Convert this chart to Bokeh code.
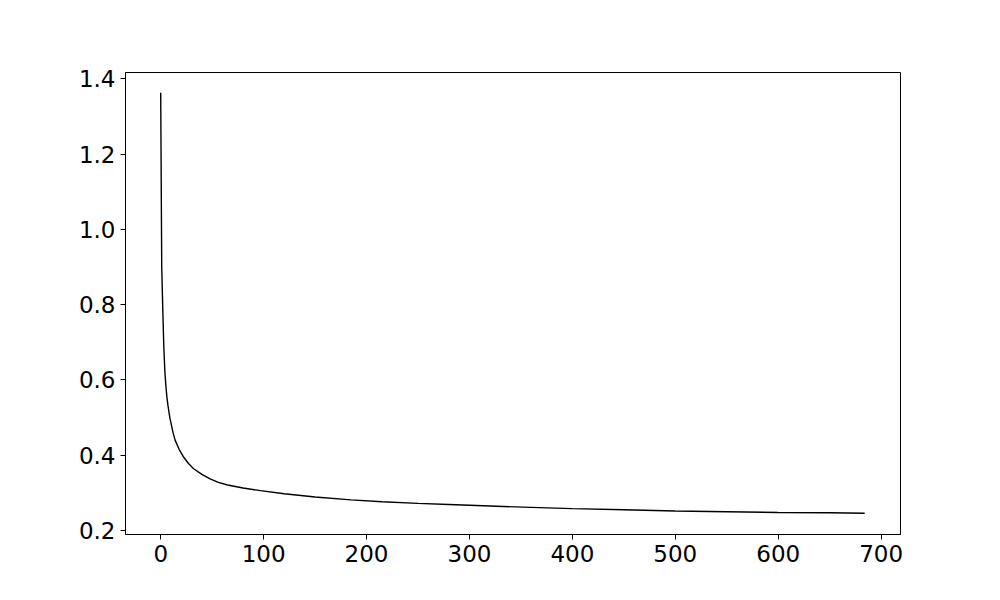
from bokeh.plotting import figure
from bokeh.models import Range1d, FixedTicker
from bokeh.embed import file_html
from bokeh.resources import INLINE

# Data (epoch, value)
epochs = [0, 1, 2, 3, 4, 5, 6, 7, 9, 12, 14, 18, 22, 27, 32, 40, 48, 56, 65,
          80, 97, 120, 150, 185, 215, 250, 280, 320, 360, 400, 450, 500,
          550, 600, 650, 684]
values = [1.363, 0.90, 0.79, 0.69, 0.625, 0.585, 0.555, 0.533, 0.498, 0.460,
          0.440, 0.415, 0.396, 0.378, 0.364, 0.349, 0.337, 0.328, 0.321,
          0.313, 0.306, 0.2975, 0.289, 0.2815, 0.2765, 0.272, 0.269, 0.265,
          0.2615, 0.258, 0.255, 0.252, 0.250, 0.248, 0.247, 0.246]

x_ticks = [0, 100, 200, 300, 400, 500, 600, 700]
y_ticks = [0.2, 0.4, 0.6, 0.8, 1.0, 1.2, 1.4]

p = figure(frame_width=775, frame_height=462,
           min_border_left=125, min_border_top=72,
           min_border_right=84, min_border_bottom=58,
           x_range=Range1d(-34.2, 718.8), y_range=Range1d(0.1894, 1.4165),
           output_backend="svg", toolbar_location=None)

p.line(epochs, values, line_color="black", line_width=1.4)

p.xgrid.visible = False
p.ygrid.visible = False
p.outline_line_color = "black"
p.outline_line_width = 1
p.outline_line_alpha = 1

for ax, ticks in ((p.xaxis, x_ticks), (p.yaxis, y_ticks)):
    ax.ticker = FixedTicker(ticks=ticks)
    ax.axis_line_color = "black"
    ax.axis_line_width = 1
    ax.major_tick_line_color = "black"
    ax.major_tick_line_width = 1
    ax.major_tick_out = 5
    ax.major_tick_in = 0
    ax.minor_tick_line_color = None
    ax.major_label_text_font = "DejaVu Sans"
    ax.major_label_text_font_size = "23px"
    ax.major_label_text_color = "black"
    ax.major_label_standoff = 5

p.yaxis.major_label_overrides = {t: f"{t:.1f}" for t in y_ticks}

open("out.html", "w").write(file_html(p, INLINE))
